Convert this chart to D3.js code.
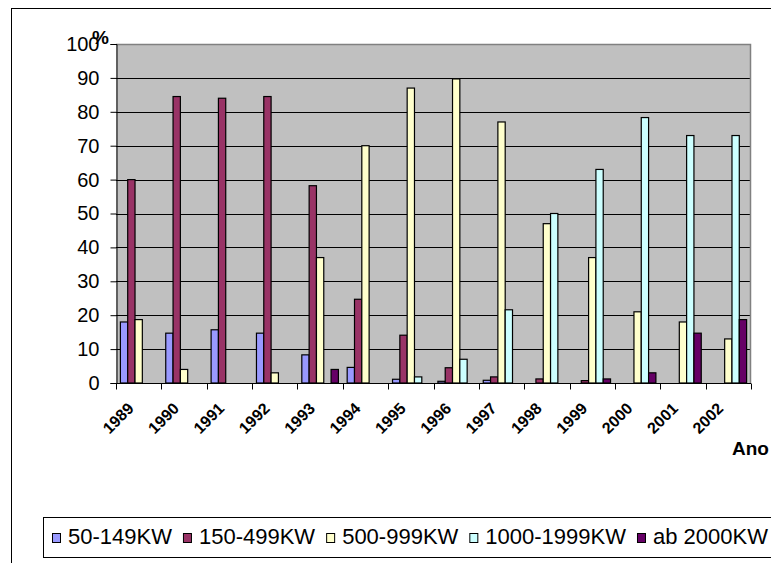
<!DOCTYPE html>
<html>
<head>
<meta charset="utf-8">
<script src="https://d3js.org/d3.v7.min.js"></script>
<style>
  body { margin: 0; background: #fff; }
  text { font-family: Arial, "Liberation Sans", sans-serif; }
</style>
</head>
<body>
<div id="chart"></div>
<script>
// data
var years = ['1989', '1990', '1991', '1992', '1993', '1994', '1995',
             '1996', '1997', '1998', '1999', '2000', '2001', '2002'];
var seriesNames = ['50-149KW', '150-499KW', '500-999KW', '1000-1999KW', 'ab 2000KW'];
var seriesColors = ['#9999ff', '#993366', '#ffffcc', '#ccffff', '#660066'];
var kw50 = [18, 14.7, 15.7, 14.7, 8.3, 4.6, 1.1, 0.5, 0.8, 0, 0, 0, 0, 0];
var kw150 = [60, 84.5, 84, 84.5, 58.2, 24.7, 14.1, 4.5, 1.8, 1.2, 0.7, 0, 0, 0];
var kw500 = [18.7, 4, 0, 3, 37, 70, 87, 89.7, 77, 47, 37, 21, 18, 13];
var kw1000 = [0, 0, 0, 0, 0, 0, 1.8, 7, 21.6, 50, 63, 78.3, 73, 73];
var kw2000 = [0, 0, 0, 0, 4, 0, 0, 0, 0, 0, 1.2, 3, 14.7, 18.7];
var yTicks = [0, 10, 20, 30, 40, 50, 60, 70, 80, 90, 100];

var allSeries = [kw50, kw150, kw500, kw1000, kw2000];

var w = 771, h = 563;
// plot area (note: "top" is taken by window.top)
var pLeft = 116, pRight = 751, pTop = 44, pBottom = 383;

var svg = d3.select('#chart').append('svg')
  .attr('width', w)
  .attr('height', h);

// outer frame
svg.append('rect')
  .attr('x', 11.5).attr('y', 8.5)
  .attr('width', 800).attr('height', 600)
  .attr('fill', 'none').attr('stroke', '#000').attr('stroke-width', 1);

var x0 = d3.scaleBand().domain(years).range([pLeft, pRight]).padding(0);
var x1 = d3.scaleBand().domain(d3.range(seriesNames.length))
  .range([0, x0.bandwidth()]).paddingInner(0).paddingOuter(0.6);
var y = d3.scaleLinear().domain([0, 100]).range([pBottom, pTop]);

// plot background
svg.append('rect')
  .attr('x', pLeft).attr('y', pTop)
  .attr('width', pRight - pLeft).attr('height', pBottom - pTop)
  .attr('fill', '#c0c0c0');

// gridlines
svg.append('g').selectAll('line')
  .data(yTicks.filter(function(d) { return d > 0 && d < 100; }))
  .enter().append('line')
  .attr('x1', pLeft).attr('x2', pRight)
  .attr('y1', function(d) { return Math.round(y(d)) + 0.5; })
  .attr('y2', function(d) { return Math.round(y(d)) + 0.5; })
  .attr('stroke', '#000').attr('stroke-width', 1);

// grey border top + right
svg.append('path')
  .attr('d', 'M' + pLeft + ',' + (pTop + 0.5) + 'H' + (pRight - 0.5) + 'V' + pBottom)
  .attr('fill', 'none').attr('stroke', '#808080').attr('stroke-width', 1.5);

// bars
var groups = svg.append('g').selectAll('g')
  .data(years)
  .enter().append('g')
  .attr('transform', function(d) { return 'translate(' + x0(d) + ',0)'; });

groups.selectAll('rect')
  .data(function(d, i) {
    return allSeries.map(function(s, k) { return {k: k, v: s[i]}; })
      .filter(function(e) { return e.v > 0; });
  })
  .enter().append('rect')
  .attr('x', function(d) { return x1(d.k); })
  .attr('y', function(d) { return y(d.v); })
  .attr('width', x1.bandwidth())
  .attr('height', function(d) { return y(0) - y(d.v); })
  .attr('fill', function(d) { return seriesColors[d.k]; })
  .attr('stroke', '#000')
  .attr('stroke-width', 1.2);

// y axis
var yAxis = svg.append('g')
  .attr('transform', 'translate(' + (pLeft + 0.5) + ',0)')
  .call(d3.axisLeft(y).tickValues(yTicks).tickSize(6).tickPadding(11));
yAxis.select('.domain').attr('stroke', '#000');
yAxis.selectAll('text')
  .style('font-size', '20px')
  .attr('fill', '#000');

// x axis
var xAxis = svg.append('g')
  .attr('transform', 'translate(0,' + (pBottom + 0.5) + ')');
xAxis.append('line')
  .attr('x1', pLeft).attr('x2', pRight)
  .attr('stroke', '#000');
xAxis.selectAll('line.tick')
  .data(years.concat(['end']))
  .enter().append('line')
  .attr('class', 'tick')
  .attr('x1', function(d, i) { return Math.round(pLeft + i * x0.step()) + 0.5; })
  .attr('x2', function(d, i) { return Math.round(pLeft + i * x0.step()) + 0.5; })
  .attr('y1', 0).attr('y2', 6)
  .attr('stroke', '#000');
xAxis.selectAll('text')
  .data(years)
  .enter().append('text')
  .attr('text-anchor', 'end')
  .attr('transform', function(d) {
    return 'translate(' + (x0(d) + x0.bandwidth() / 2 - 4) + ',26) rotate(-45)';
  })
  .style('font-size', '16px')
  .style('font-weight', 'bold')
  .text(function(d) { return d; });

// axis titles
svg.append('text')
  .attr('x', 92).attr('y', 44)
  .style('font-size', '19px')
  .style('font-weight', 'bold')
  .text('%');
svg.append('text')
  .attr('x', 732).attr('y', 455)
  .style('font-size', '19px')
  .style('font-weight', 'bold')
  .text('Ano');

// legend
var legend = svg.append('g');
legend.append('rect')
  .attr('x', 43.5).attr('y', 517.5)
  .attr('width', 760).attr('height', 40)
  .attr('fill', '#fff').attr('stroke', '#000');

var lx = 52;
seriesNames.forEach(function(name, k) {
  legend.append('rect')
    .attr('x', lx + 0.5).attr('y', 533.5)
    .attr('width', 8).attr('height', 9)
    .attr('fill', seriesColors[k])
    .attr('stroke', '#000');
  var t = legend.append('text')
    .attr('x', lx + 16).attr('y', 544)
    .style('font-size', '22px')
    .text(name);
  lx += 16 + t.node().getComputedTextLength() + 11;
});
</script>
</body>
</html>
